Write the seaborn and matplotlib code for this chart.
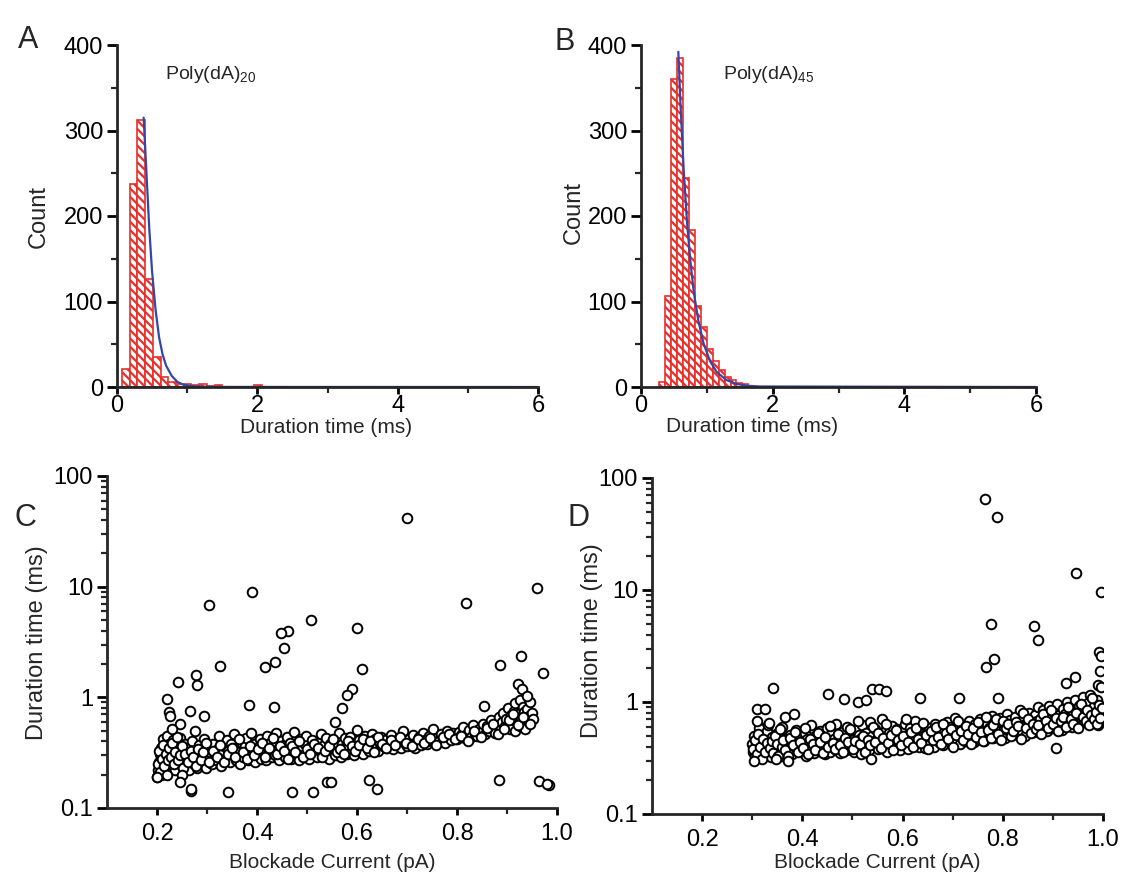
import numpy as np
import pandas as pd
import seaborn as sns
import matplotlib.pyplot as plt
from matplotlib.ticker import MultipleLocator, LogLocator, NullFormatter, FixedLocator

sns.set_style("ticks")
plt.rcParams['font.family'] = ['Liberation Sans', 'DejaVu Sans']
plt.rcParams['mathtext.fontset'] = 'custom'
plt.rcParams['mathtext.rm'] = 'Liberation Sans'
plt.rcParams['mathtext.default'] = 'regular'
plt.rcParams['hatch.linewidth'] = 1.6

# ---- histogram data ----
a_edges = [0.07, 0.18, 0.29, 0.40, 0.51, 0.62, 0.73, 0.84, 0.95, 1.06, 1.17, 1.28, 1.39, 1.50, 1.95, 2.06, 6.0]
a_counts = [21, 237, 312, 126, 35, 12, 6, 4, 3, 2, 3, 1, 2, 0, 2, 0]
a_fit_x = [0.38, 0.42, 0.46, 0.50, 0.55, 0.60, 0.65, 0.70, 0.78, 0.86, 0.95, 1.10, 1.40, 6.0]
a_fit_y = [315, 250, 185, 135, 90, 58, 38, 25, 13, 6, 2.5, 0.8, 0.1, 0]

b_edges = [0.28, 0.37, 0.46, 0.55, 0.64, 0.73, 0.82, 0.91, 1.00, 1.09, 1.18, 1.27, 1.36, 1.45, 1.54, 1.63, 6.0]
b_counts = [6, 107, 360, 385, 244, 184, 95, 70, 45, 30, 20, 12, 8, 5, 3, 0]
b_fit_x = [0.567, 0.60, 0.65, 0.70, 0.75, 0.80, 0.87, 0.95, 1.05, 1.15, 1.30, 1.45, 1.60, 1.80, 6.0]
b_fit_y = [392, 330, 252, 192, 147, 112, 78, 51, 30, 17.5, 8, 3.6, 1.6, 0.6, 0]

# ---- scatter C: Poly(dA)20 ----
c_band_x = [0.200, 0.202, 0.204, 0.205, 0.207, 0.208, 0.210, 0.211, 0.213, 0.215,
            0.216, 0.218, 0.220, 0.222, 0.224, 0.226, 0.228, 0.230, 0.232, 0.234,
            0.236, 0.238, 0.240, 0.243, 0.245, 0.248, 0.250, 0.253, 0.255, 0.258,
            0.260, 0.263, 0.265, 0.268, 0.270, 0.273, 0.275, 0.278, 0.280, 0.283,
            0.285, 0.288, 0.290, 0.293, 0.295, 0.298, 0.300, 0.303, 0.306, 0.309,
            0.312, 0.315, 0.318, 0.321, 0.324, 0.327, 0.330, 0.333, 0.336, 0.339,
            0.342, 0.345, 0.348, 0.351, 0.354, 0.357, 0.360, 0.363, 0.366, 0.369,
            0.372, 0.375, 0.378, 0.381, 0.384, 0.387, 0.390, 0.393, 0.396, 0.399,
            0.402, 0.405, 0.408, 0.411, 0.414, 0.417, 0.420, 0.423, 0.426, 0.429,
            0.432, 0.435, 0.438, 0.441, 0.444, 0.447, 0.450, 0.453, 0.456, 0.459,
            0.462, 0.465, 0.468, 0.471, 0.474, 0.477, 0.480, 0.483, 0.486, 0.489,
            0.492, 0.495, 0.498, 0.501, 0.504, 0.507, 0.510, 0.513, 0.516, 0.519,
            0.522, 0.525, 0.528, 0.531, 0.534, 0.537, 0.540, 0.543, 0.546, 0.549,
            0.552, 0.555, 0.558, 0.561, 0.564, 0.567, 0.570, 0.573, 0.576, 0.579,
            0.582, 0.585, 0.588, 0.591, 0.594, 0.597, 0.600, 0.603, 0.606, 0.609,
            0.612, 0.615, 0.618, 0.621, 0.624, 0.627, 0.630, 0.633, 0.636, 0.639,
            0.642, 0.645, 0.648, 0.652, 0.656, 0.660, 0.664, 0.668, 0.672, 0.676,
            0.680, 0.684, 0.688, 0.692, 0.696, 0.700, 0.704, 0.708, 0.712, 0.716,
            0.720, 0.724, 0.728, 0.732, 0.736, 0.740, 0.744, 0.748, 0.752, 0.756,
            0.760, 0.764, 0.768, 0.772, 0.776, 0.780, 0.784, 0.788, 0.792, 0.796,
            0.800, 0.804, 0.808, 0.812, 0.816, 0.820, 0.824, 0.828, 0.832, 0.836,
            0.840, 0.844, 0.848, 0.852, 0.856, 0.860, 0.864, 0.868, 0.872, 0.876,
            0.880, 0.883, 0.886, 0.889, 0.892, 0.895, 0.898, 0.901, 0.904, 0.907,
            0.910, 0.913, 0.916, 0.919, 0.922, 0.925, 0.928, 0.931, 0.934, 0.937,
            0.940, 0.943, 0.946, 0.949, 0.952, 0.905, 0.915, 0.925, 0.935, 0.945]
c_band_y = [0.19, 0.22, 0.26, 0.31, 0.20, 0.35, 0.24, 0.42, 0.29, 0.21,
            0.33, 0.27, 0.45, 0.23, 0.38, 0.30, 0.25, 0.34, 0.41, 0.28,
            0.22, 0.36, 0.31, 0.26, 0.43, 0.29, 0.24, 0.33, 0.38, 0.27,
            0.31, 0.22, 0.35, 0.28, 0.40, 0.25, 0.33, 0.30, 0.23, 0.37,
            0.29, 0.34, 0.26, 0.42, 0.31, 0.23, 0.36, 0.28, 0.32, 0.25,
            0.38, 0.30, 0.27, 0.34, 0.45, 0.24, 0.31, 0.36, 0.28, 0.41,
            0.33, 0.26, 0.38, 0.30, 0.47, 0.27, 0.35, 0.32, 0.25, 0.39,
            0.29, 0.36, 0.43, 0.27, 0.33, 0.48, 0.30, 0.38, 0.26, 0.35,
            0.31, 0.42, 0.28, 0.37, 0.33, 0.27, 0.45, 0.32, 0.39, 0.29,
            0.36, 0.30, 0.48, 0.34, 0.27, 0.40, 0.32, 0.37, 0.29, 0.44,
            0.33, 0.39, 0.28, 0.35, 0.49, 0.31, 0.37, 0.27, 0.42, 0.34,
            0.30, 0.38, 0.45, 0.33, 0.28, 0.36, 0.41, 0.31, 0.35, 0.29,
            0.39, 0.33, 0.47, 0.30, 0.37, 0.43, 0.32, 0.28, 0.38, 0.35,
            0.41, 0.30, 0.36, 0.33, 0.48, 0.29, 0.38, 0.35, 0.43, 0.31,
            0.37, 0.44, 0.32, 0.39, 0.30, 0.35, 0.51, 0.41, 0.34, 0.38,
            0.31, 0.45, 0.36, 0.40, 0.33, 0.38, 0.47, 0.34, 0.42, 0.37,
            0.33, 0.39, 0.44, 0.36, 0.41, 0.35, 0.38, 0.46, 0.34, 0.40,
            0.37, 0.43, 0.35, 0.50, 0.39, 0.36, 0.42, 0.38, 0.46, 0.35,
            0.40, 0.44, 0.37, 0.48, 0.41, 0.38, 0.45, 0.40, 0.52, 0.39,
            0.43, 0.40, 0.47, 0.42, 0.39, 0.50, 0.44, 0.41, 0.48, 0.45,
            0.42, 0.49, 0.46, 0.54, 0.43, 0.47, 0.51, 0.44, 0.56, 0.48,
            0.45, 0.52, 0.49, 0.58, 0.47, 0.55, 0.50, 0.62, 0.53, 0.48,
            0.56, 0.66, 0.51, 0.60, 0.72, 0.55, 0.64, 0.80, 0.58, 0.69,
            0.62, 0.76, 0.88, 0.57, 0.70, 0.95, 0.65, 0.82, 0.74, 0.60,
            0.78, 0.68, 0.90, 0.72, 0.64, 0.52, 0.50, 0.55, 0.52, 0.58]
c_band2_x = [0.201, 0.203, 0.206, 0.209, 0.212, 0.214, 0.217, 0.219, 0.221, 0.223,
             0.227, 0.229, 0.233, 0.235, 0.239, 0.242, 0.246, 0.249, 0.252, 0.256,
             0.262, 0.267, 0.272, 0.277, 0.282, 0.287, 0.292, 0.297, 0.304, 0.311,
             0.319, 0.326, 0.334, 0.341, 0.349, 0.356, 0.364, 0.371, 0.379, 0.386,
             0.394, 0.401, 0.409, 0.416, 0.424, 0.431, 0.439, 0.446, 0.454, 0.461,
             0.469, 0.476, 0.484, 0.491, 0.499, 0.506, 0.514, 0.521, 0.529, 0.536,
             0.544, 0.551, 0.559, 0.566, 0.574, 0.581, 0.589, 0.596, 0.604, 0.611,
             0.619, 0.626, 0.634, 0.641, 0.650, 0.658, 0.667, 0.675, 0.686, 0.698,
             0.710, 0.722, 0.734, 0.746, 0.758, 0.771, 0.783, 0.795, 0.808, 0.821,
             0.834, 0.847, 0.859, 0.871, 0.882, 0.893, 0.903, 0.912, 0.921, 0.931]
c_band2_y = [0.25, 0.33, 0.21, 0.28, 0.37, 0.24, 0.31, 0.20, 0.27, 0.35,
             0.29, 0.39, 0.25, 0.32, 0.44, 0.27, 0.30, 0.36, 0.23, 0.31,
             0.26, 0.33, 0.29, 0.24, 0.34, 0.27, 0.32, 0.39, 0.26, 0.33,
             0.29, 0.37, 0.26, 0.31, 0.35, 0.29, 0.42, 0.32, 0.28, 0.36,
             0.30, 0.34, 0.39, 0.29, 0.35, 0.43, 0.31, 0.36, 0.33, 0.28,
             0.36, 0.32, 0.40, 0.29, 0.34, 0.31, 0.38, 0.35, 0.29, 0.33,
             0.36, 0.42, 0.32, 0.34, 0.31, 0.40, 0.36, 0.33, 0.37, 0.42,
             0.35, 0.40, 0.32, 0.44, 0.38, 0.35, 0.41, 0.37, 0.44, 0.39,
             0.36, 0.42, 0.39, 0.43, 0.37, 0.44, 0.47, 0.42, 0.45, 0.40,
             0.50, 0.44, 0.53, 0.57, 0.47, 0.52, 0.62, 0.70, 0.56, 0.66]
c_out_x = [0.303, 0.389, 0.700, 0.818, 0.959, 0.508, 0.600, 0.461, 0.448, 0.454,
           0.435, 0.415, 0.325, 0.610, 0.242, 0.277, 0.279, 0.590, 0.579, 0.569,
           0.556, 0.383, 0.434, 0.266, 0.293, 0.220, 0.223, 0.225, 0.245, 0.229,
           0.275, 0.928, 0.886, 0.972, 0.922, 0.930, 0.939, 0.884, 0.963, 0.983,
           0.980, 0.267, 0.342, 0.470, 0.512, 0.540, 0.548, 0.624, 0.640, 0.250,
           0.245, 0.200, 0.854, 0.267]
c_out_y = [6.9, 8.9, 42.0, 7.1, 9.7, 5.0, 4.2, 4.0, 3.8, 2.8,
           2.1, 1.87, 1.9, 1.79, 1.37, 1.58, 1.30, 1.18, 1.06, 0.80,
           0.60, 0.86, 0.82, 0.75, 0.68, 0.96, 0.73, 0.68, 0.57, 0.52,
           0.50, 2.36, 1.96, 1.67, 1.33, 1.18, 1.03, 0.18, 0.174, 0.16,
           0.165, 0.141, 0.14, 0.14, 0.14, 0.17, 0.17, 0.18, 0.15, 0.20,
           0.17, 0.19, 0.835, 0.15]

# ---- scatter D: Poly(dA)45 ----
d_band_x = [0.300, 0.302, 0.304, 0.306, 0.308, 0.311, 0.313, 0.315, 0.318, 0.320,
            0.323, 0.325, 0.328, 0.330, 0.333, 0.335, 0.338, 0.340, 0.343, 0.345,
            0.348, 0.350, 0.353, 0.355, 0.358, 0.360, 0.363, 0.365, 0.368, 0.370,
            0.373, 0.375, 0.378, 0.380, 0.383, 0.385, 0.388, 0.390, 0.393, 0.395,
            0.398, 0.400, 0.403, 0.405, 0.408, 0.410, 0.413, 0.415, 0.418, 0.420,
            0.423, 0.425, 0.428, 0.430, 0.433, 0.435, 0.438, 0.440, 0.443, 0.445,
            0.448, 0.450, 0.453, 0.455, 0.458, 0.460, 0.463, 0.465, 0.468, 0.470,
            0.473, 0.475, 0.478, 0.480, 0.483, 0.485, 0.488, 0.490, 0.493, 0.495,
            0.498, 0.500, 0.503, 0.505, 0.508, 0.510, 0.513, 0.515, 0.518, 0.520,
            0.523, 0.525, 0.528, 0.530, 0.533, 0.535, 0.538, 0.540, 0.543, 0.545,
            0.548, 0.550, 0.553, 0.555, 0.558, 0.560, 0.563, 0.565, 0.568, 0.570,
            0.573, 0.575, 0.578, 0.580, 0.583, 0.585, 0.588, 0.590, 0.593, 0.595,
            0.598, 0.600, 0.603, 0.605, 0.608, 0.610, 0.613, 0.615, 0.618, 0.620,
            0.623, 0.625, 0.628, 0.630, 0.633, 0.635, 0.638, 0.640, 0.643, 0.645,
            0.648, 0.650, 0.653, 0.655, 0.658, 0.660, 0.663, 0.665, 0.668, 0.670,
            0.673, 0.675, 0.678, 0.680, 0.683, 0.685, 0.688, 0.690, 0.693, 0.695,
            0.698, 0.700, 0.703, 0.705, 0.708, 0.710, 0.713, 0.715, 0.718, 0.720,
            0.723, 0.725, 0.728, 0.730, 0.733, 0.735, 0.738, 0.740, 0.743, 0.745,
            0.748, 0.750, 0.753, 0.755, 0.758, 0.760, 0.763, 0.765, 0.768, 0.770,
            0.773, 0.775, 0.778, 0.780, 0.783, 0.785, 0.788, 0.790, 0.793, 0.795,
            0.798, 0.800, 0.803, 0.805, 0.808, 0.810, 0.813, 0.815, 0.818, 0.820,
            0.823, 0.825, 0.828, 0.830, 0.833, 0.835, 0.838, 0.840, 0.843, 0.845,
            0.848, 0.850, 0.853, 0.855, 0.858, 0.860, 0.863, 0.865, 0.868, 0.870,
            0.873, 0.875, 0.878, 0.880, 0.883, 0.885, 0.888, 0.890, 0.893, 0.895,
            0.898, 0.900, 0.903, 0.905, 0.908, 0.910, 0.913, 0.915, 0.918, 0.920,
            0.923, 0.925, 0.928, 0.930, 0.933, 0.935, 0.938, 0.940, 0.943, 0.945,
            0.948, 0.950, 0.953, 0.955, 0.958, 0.960, 0.963, 0.965, 0.968, 0.970,
            0.973, 0.975, 0.978, 0.980, 0.983, 0.985, 0.988, 0.990, 0.993, 0.996]
d_band_y = [0.42, 0.36, 0.50, 0.33, 0.45, 0.39, 0.58, 0.35, 0.44, 0.40,
            0.47, 0.34, 0.41, 0.55, 0.38, 0.44, 0.32, 0.49, 0.37, 0.43,
            0.52, 0.36, 0.40, 0.46, 0.33, 0.60, 0.42, 0.38, 0.48, 0.35,
            0.44, 0.51, 0.39, 0.34, 0.46, 0.41, 0.56, 0.37, 0.43, 0.49,
            0.36, 0.45, 0.40, 0.53, 0.33, 0.47, 0.42, 0.38, 0.62, 0.44,
            0.35, 0.50, 0.41, 0.46, 0.37, 0.55, 0.43, 0.39, 0.48, 0.34,
            0.45, 0.58, 0.40, 0.36, 0.52, 0.44, 0.47, 0.38, 0.64, 0.42,
            0.49, 0.35, 0.45, 0.54, 0.40, 0.47, 0.37, 0.60, 0.43, 0.50,
            0.41, 0.46, 0.36, 0.56, 0.44, 0.39, 0.51, 0.47, 0.34, 0.62,
            0.45, 0.40, 0.53, 0.48, 0.37, 0.66, 0.43, 0.50, 0.41, 0.57,
            0.46, 0.38, 0.52, 0.44, 0.70, 0.40, 0.49, 0.55, 0.36, 0.47,
            0.53, 0.42, 0.61, 0.46, 0.39, 0.50, 0.57, 0.44, 0.48, 0.37,
            0.55, 0.47, 0.42, 0.63, 0.50, 0.38, 0.45, 0.58, 0.52, 0.41,
            0.48, 0.68, 0.44, 0.53, 0.40, 0.57, 0.46, 0.50, 0.62, 0.39,
            0.52, 0.45, 0.59, 0.42, 0.49, 0.55, 0.40, 0.64, 0.47, 0.53,
            0.44, 0.58, 0.50, 0.41, 0.55, 0.48, 0.66, 0.45, 0.52, 0.60,
            0.43, 0.54, 0.49, 0.72, 0.46, 0.57, 0.51, 0.42, 0.62, 0.48,
            0.55, 0.45, 0.60, 0.50, 0.67, 0.47, 0.53, 0.58, 0.44, 0.63,
            0.51, 0.56, 0.47, 0.70, 0.53, 0.60, 0.45, 0.57, 0.64, 0.49,
            0.58, 0.52, 0.75, 0.48, 0.62, 0.55, 0.67, 0.50, 0.59, 0.72,
            0.53, 0.64, 0.57, 0.48, 0.78, 0.60, 0.55, 0.69, 0.51, 0.63,
            0.58, 0.74, 0.52, 0.66, 0.60, 0.85, 0.55, 0.70, 0.62, 0.50,
            0.65, 0.59, 0.80, 0.56, 0.72, 0.62, 0.54, 0.77, 0.67, 0.90,
            0.60, 0.70, 0.57, 0.84, 0.64, 0.75, 0.55, 0.68, 0.92, 0.62,
            0.73, 0.58, 0.80, 0.66, 0.95, 0.62, 0.76, 0.70, 0.56, 0.86,
            0.66, 0.78, 1.00, 0.62, 0.72, 0.88, 0.60, 0.82, 0.69, 1.05,
            0.74, 0.64, 0.92, 0.80, 0.70, 1.10, 0.66, 0.86, 0.76, 0.98,
            0.72, 1.15, 0.84, 0.68, 0.93, 0.79, 1.05, 0.62, 0.88, 0.75]
d_band2_x = [0.301, 0.305, 0.309, 0.312, 0.316, 0.319, 0.322, 0.326, 0.329, 0.332,
             0.336, 0.339, 0.342, 0.346, 0.349, 0.352, 0.356, 0.359, 0.362, 0.366,
             0.371, 0.376, 0.381, 0.386, 0.391, 0.396, 0.401, 0.406, 0.411, 0.416,
             0.421, 0.426, 0.431, 0.436, 0.441, 0.446, 0.451, 0.456, 0.461, 0.466,
             0.471, 0.476, 0.481, 0.486, 0.491, 0.496, 0.501, 0.506, 0.511, 0.516,
             0.521, 0.526, 0.531, 0.536, 0.541, 0.546, 0.551, 0.556, 0.561, 0.566,
             0.571, 0.576, 0.581, 0.586, 0.591, 0.596, 0.601, 0.606, 0.611, 0.616,
             0.621, 0.626, 0.631, 0.636, 0.641, 0.646, 0.651, 0.656, 0.661, 0.666,
             0.671, 0.676, 0.681, 0.686, 0.691, 0.696, 0.701, 0.706, 0.711, 0.716,
             0.721, 0.726, 0.731, 0.736, 0.741, 0.746, 0.751, 0.756, 0.761, 0.766,
             0.771, 0.776, 0.781, 0.786, 0.791, 0.796, 0.801, 0.806, 0.811, 0.816,
             0.821, 0.826, 0.831, 0.836, 0.841, 0.846, 0.851, 0.856, 0.861, 0.866,
             0.871, 0.876, 0.881, 0.886, 0.891, 0.896, 0.901, 0.906, 0.911, 0.916,
             0.921, 0.926, 0.931, 0.936, 0.941, 0.946, 0.951, 0.956, 0.961, 0.966,
             0.969, 0.972, 0.976, 0.979, 0.982, 0.986, 0.989, 0.992, 0.995, 0.999]
d_band2_y = [0.38, 0.46, 0.34, 0.52, 0.40, 0.31, 0.47, 0.36, 0.43, 0.62,
             0.39, 0.45, 0.35, 0.50, 0.42, 0.33, 0.57, 0.40, 0.46, 0.37,
             0.33, 0.48, 0.41, 0.54, 0.36, 0.44, 0.39, 0.58, 0.34, 0.47,
             0.42, 0.37, 0.53, 0.44, 0.35, 0.49, 0.40, 0.61, 0.43, 0.38,
             0.52, 0.41, 0.36, 0.48, 0.44, 0.57, 0.38, 0.45, 0.67, 0.42,
             0.50, 0.36, 0.46, 0.41, 0.60, 0.44, 0.53, 0.39, 0.48, 0.64,
             0.43, 0.51, 0.37, 0.56, 0.46, 0.41, 0.50, 0.70, 0.44, 0.54,
             0.40, 0.58, 0.47, 0.43, 0.65, 0.51, 0.38, 0.55, 0.46, 0.60,
             0.49, 0.42, 0.63, 0.53, 0.47, 0.57, 0.40, 0.51, 0.68, 0.55,
             0.46, 0.61, 0.52, 0.42, 0.58, 0.49, 0.66, 0.54, 0.45, 0.74,
             0.56, 0.48, 0.62, 0.71, 0.52, 0.46, 0.68, 0.58, 0.63, 0.50,
             0.55, 0.66, 0.61, 0.47, 0.80, 0.59, 0.70, 0.53, 0.64, 0.57,
             0.62, 0.52, 0.78, 0.68, 0.58, 0.85, 0.64, 0.72, 0.55, 0.67,
             0.73, 0.60, 0.90, 0.70, 0.64, 0.80, 0.58, 0.96, 0.74, 0.68,
             0.85, 0.62, 0.76, 1.08, 0.70, 0.82, 0.64, 0.94, 0.72, 0.88]
d_out_x = [0.765, 0.788, 0.946, 0.997, 0.776, 0.862, 0.871, 0.783, 0.767, 0.993,
           0.997, 0.995, 0.926, 0.944, 0.990, 0.997, 0.539, 0.553, 0.566, 0.451,
           0.483, 0.511, 0.527, 0.634, 0.712, 0.790, 0.906, 0.537, 0.341, 0.309,
           0.326, 0.310, 0.334, 0.366, 0.384, 0.303, 0.347, 0.371]
d_out_y = [65.0, 45.0, 14.3, 9.5, 5.0, 4.8, 3.6, 2.4, 2.05, 2.8,
           2.6, 1.9, 1.49, 1.67, 1.42, 1.35, 1.31, 1.31, 1.25, 1.19,
           1.07, 1.00, 1.05, 1.08, 1.08, 1.09, 0.39, 0.31, 1.34, 0.86,
           0.86, 0.68, 0.65, 0.73, 0.78, 0.30, 0.31, 0.30]

RED = '#e8302b'
BLUE = '#3546a8'
W, H = 1121, 884

fig = plt.figure(figsize=(W / 100, H / 100), dpi=100)


def box(l, t, r, b):
    return [l / W, 1 - b / H, (r - l) / W, (b - t) / H]


def style(ax, xpad):
    sns.despine(ax=ax)
    for s in ['left', 'bottom']:
        ax.spines[s].set_linewidth(2)
    ax.tick_params(which='major', direction='out', length=7, width=2, labelsize=17, colors='black', pad=3)
    ax.tick_params(which='minor', direction='out', length=4, width=1.6)
    ax.tick_params(axis='x', which='major', length=5, pad=xpad)


def hist_panel(ax, edges, counts, fit_x, fit_y, text_x, sub):
    centers = [(lo + hi) / 2 for lo, hi in zip(edges[:-1], edges[1:])]
    hist_df = pd.DataFrame({'t': centers, 'n': counts})
    sns.histplot(data=hist_df, x='t', weights='n', bins=list(edges), ax=ax,
                 stat='count', element='bars', fill=True, color=RED, alpha=1)
    for p in ax.patches:
        p.set_facecolor('white')
        p.set_edgecolor(RED)
        p.set_hatch('\\\\\\\\')
        p.set_linewidth(1.2)
    sns.lineplot(x=fit_x, y=fit_y, ax=ax, color=BLUE, lw=1.6)
    ax.set_xlim(0, 6)
    ax.set_ylim(0, 400)
    ax.xaxis.set_major_locator(MultipleLocator(2))
    ax.xaxis.set_minor_locator(MultipleLocator(1))
    ax.yaxis.set_major_locator(MultipleLocator(100))
    ax.yaxis.set_minor_locator(MultipleLocator(50))
    style(ax, 0.5)
    ax.set_xlabel('Duration time (ms)', fontsize=15)
    ax.set_ylabel('Count', fontsize=17)
    ax.text(text_x, 365, 'Poly(dA)$_{%s}$' % sub, fontsize=14, va='center')


def scatter_panel(ax, bx, by, ox, oy):
    ax.set_yscale('log')
    df = pd.DataFrame({'x': list(bx) + list(ox), 'y': list(by) + list(oy)})
    sns.scatterplot(data=df, x='x', y='y', ax=ax, marker='o', s=48,
                    facecolor='white', edgecolor='black', linewidth=1.4)
    ax.set_xlim(0.1, 1.0)
    ax.set_ylim(0.1, 100)
    ax.xaxis.set_major_locator(FixedLocator([0.2, 0.4, 0.6, 0.8, 1.0]))
    ax.xaxis.set_minor_locator(FixedLocator([0.3, 0.5, 0.7, 0.9]))
    ax.set_xticklabels(['0.2', '0.4', '0.6', '0.8', '1.0'])
    ax.yaxis.set_major_locator(FixedLocator([0.1, 1, 10, 100]))
    ax.set_yticklabels(['0.1', '1', '10', '100'])
    ax.yaxis.set_minor_locator(LogLocator(base=10, subs=np.arange(2, 10)))
    ax.yaxis.set_minor_formatter(NullFormatter())
    style(ax, 6)
    ax.set_xlabel('Blockade Current (pA)', fontsize=15)
    ax.set_ylabel('Duration time (ms)', fontsize=17)


axA = fig.add_axes(box(117, 45, 538, 387))
hist_panel(axA, a_edges, a_counts, a_fit_x, a_fit_y, 0.69, '20')
axA.xaxis.set_label_coords(0.496, -0.092)
axA.yaxis.set_label_coords(-0.159, 0.5)

axB = fig.add_axes(box(641, 45, 1036, 387))
hist_panel(axB, b_edges, b_counts, b_fit_x, b_fit_y, 1.25, '45')
axB.xaxis.set_label_coords(0.281, -0.088)
axB.yaxis.set_label_coords(-0.142, 0.51)

axC = fig.add_axes(box(107, 476, 557, 808))
scatter_panel(axC, c_band_x + c_band2_x, c_band_y + c_band2_y, c_out_x, c_out_y)
axC.xaxis.set_label_coords(0.5, -0.136)
axC.yaxis.set_label_coords(-0.131, 0.497)

axD = fig.add_axes(box(652, 478, 1103, 814))
scatter_panel(axD, d_band_x + d_band2_x, d_band_y + d_band2_y, d_out_x, d_out_y)
axD.xaxis.set_label_coords(0.5, -0.116)
axD.yaxis.set_label_coords(-0.109, 0.515)

for letter, x, y in [('A', 28, 40), ('B', 565, 42), ('C', 25, 518), ('D', 578, 518)]:
    fig.text(x / W, 1 - y / H, letter, fontsize=22, ha='center', va='center')

fig.savefig('out.png', dpi=100)
